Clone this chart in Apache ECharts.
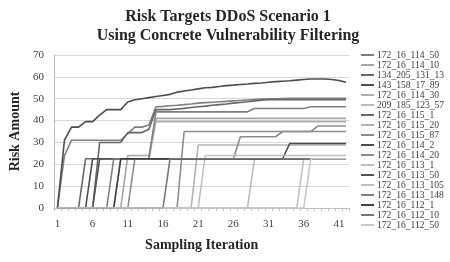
<!DOCTYPE html>
<html><head><meta charset="utf-8">
<script src="https://cdn.jsdelivr.net/npm/echarts@6/dist/echarts.min.js"></script>
<style>html,body{margin:0;padding:0;background:#fff}#c{width:450px;height:262px}</style>
</head><body><div id="c"></div>
<script>
const titleLines = ['Risk Targets DDoS Scenario 1', 'Using Concrete Vulnerability Filtering'];
const xName = 'Sampling Iteration';
const yName = 'Risk Amount';
const categories = ['1','2','3','4','5','6','7','8','9','10','11','12','13','14','15','16','17','18','19','20','21','22','23','24','25','26','27','28','29','30','31','32','33','34','35','36','37','38','39','40','41','42'];
const seriesNames = ['172_16_114_50','172_16_114_10','134_205_131_13','143_158_17_89','172_16_114_30','209_185_123_57','172_16_115_1','172_16_115_20','172_16_115_87','172_16_114_2','172_16_114_20','172_16_113_1','172_16_113_50','172_16_113_105','172_16_113_148','172_16_112_1','172_16_112_10','172_16_112_50'];

const s_172_16_114_50 = [0,24,31,31,31,31,31,31,31,31,34,37,37,38,46.3,46.5,46.8,47,47.3,47.6,48,48.2,48.4,48.6,48.8,49,49.2,49.4,49.6,49.8,50,50,50.1,50.2,50.2,50.2,50.2,50.2,50.2,50.2,50.2,50.2];
const s_172_16_114_10 = [0,0,0,0,0,0,0,0,0,0,24,24,24,24,41,41,41,41,41,41,41,41,41,41,41,41,41,41,41,41,41,41,41,41,41,41,41,41,41,41,41,41];
const s_134_205_131_13 = [0,0,0,0,0,0,30,30,30,30,34.5,34.5,34.5,36,45,45,45,45.3,45.6,46,46.3,46.6,47,47.3,47.6,48,48.3,48.6,49,49.3,49.5,49.5,49.5,49.5,49.5,49.5,49.5,49.5,49.5,49.5,49.5,49.5];
const s_143_158_17_89 = [0,31,37,37,39.5,39.5,42.5,45,45,45,48.5,49.5,50,50.5,51,51.5,52,53,53.5,54,54.5,55,55.2,55.6,56,56.2,56.5,56.7,57,57.2,57.5,57.8,58,58.2,58.5,58.8,59,59,59,58.8,58.3,57.5];
const s_172_16_114_30 = [0,0,0,0,0,0,0,0,0,22.5,22.5,22.5,22.5,22.5,39.5,39.5,39.5,39.5,39.5,39.5,39.5,39.5,39.5,39.5,39.5,39.5,39.5,39.5,39.5,39.5,39.5,39.5,39.5,39.5,39.5,39.5,39.5,39.5,39.5,39.5,39.5,39.5];
const s_209_185_123_57 = [0,0,0,0,0,0,0,0,0,0,0,0,0,0,0,0,0,0,0,0,0,0,0,0,0,0,0,0,22.5,22.5,22.5,22.5,22.5,22.5,22.5,22.5,22.5,22.5,22.5,22.5,22.5,22.5];
const s_172_16_115_1 = [0,0,0,0,22.5,22.5,22.5,22.5,22.5,22.5,22.5,22.5,22.5,22.5,22.5,22.5,22.5,22.5,22.5,22.5,22.5,22.5,22.5,22.5,22.5,22.5,22.5,22.5,22.5,22.5,22.5,22.5,22.5,22.5,22.5,22.5,22.5,22.5,22.5,22.5,22.5,22.5];
const s_172_16_115_20 = [0,0,0,0,0,0,0,0,0,0,0,0,0,0,0,0,0,0,0,0,28.8,28.8,28.8,28.8,28.8,28.8,28.8,28.8,28.8,28.8,28.8,28.8,28.8,28.8,28.8,28.8,28.8,28.8,28.8,28.8,28.8,28.8];
const s_172_16_115_87 = [0,0,0,0,0,0,0,0,0,0,0,0,0,0,0,0,0,0,35,35,35,35,35,35,35,35,35,35,35,35,35,35,35,35,35,35,35,37.5,37.5,37.5,37.5,37.5];
const s_172_16_114_2 = [0,0,0,0,0,22.5,22.5,22.5,22.5,22.5,22.5,22.5,22.5,22.5,22.5,22.5,22.5,22.5,22.5,22.5,22.5,22.5,22.5,22.5,22.5,22.5,22.5,22.5,22.5,22.5,22.5,22.5,22.5,29.5,29.5,29.5,29.5,29.5,29.5,29.5,29.5,29.5];
const s_172_16_114_20 = [0,0,0,0,0,0,0,0,0,0,0,22.5,22.5,22.5,22.5,22.5,22.5,22.5,22.5,22.5,22.5,22.5,22.5,22.5,22.5,22.5,32.6,32.6,32.6,32.6,32.6,32.6,35,35,35,35,35,35,35,35,35,35];
const s_172_16_113_1 = [0,0,0,0,0,0,0,0,0,0,0,0,0,0,0,0,0,0,0,0,0,24,24,24,24,24,24,24,24,24,24,24,24,24,24,24,24,24,24,24,24,24];
const s_172_16_113_50 = [0,0,0,0,0,0,22.5,22.5,22.5,22.5,22.5,22.5,22.5,22.5,22.5,22.5,22.5,22.5,22.5,22.5,22.5,22.5,22.5,22.5,22.5,22.5,22.5,22.5,22.5,22.5,22.5,22.5,22.5,22.5,22.5,22.5,22.5,22.5,22.5,22.5,22.5,22.5];
const s_172_16_113_105 = [0,0,0,0,0,0,0,0,0,0,0,0,0,0,0,0,0,0,0,0,0,0,0,0,0,0,0,0,0,0,0,0,0,0,0,22.5,22.5,22.5,22.5,22.5,22.5,22.5];
const s_172_16_113_148 = [0,0,0,0,0,0,0,0,22.5,22.5,22.5,22.5,22.5,22.5,44,44,44,44,44,44,44,44,44,44,44,44,44,44,45.5,45.5,45.5,45.5,45.5,45.5,45.5,45.5,46.3,46.3,46.3,46.3,46.3,46.3];
const s_172_16_112_1 = [0,0,0,0,0,0,0,0,0,22.5,22.5,22.5,22.5,22.5,22.5,22.5,22.5,22.5,22.5,22.5,22.5,22.5,22.5,22.5,22.5,22.5,22.5,22.5,22.5,22.5,22.5,22.5,22.5,22.5,22.5,22.5,22.5,22.5,22.5,22.5,22.5,22.5];
const s_172_16_112_10 = [0,0,0,0,0,0,0,0,0,0,0,0,0,0,0,0,22.5,22.5,22.5,22.5,22.5,22.5,22.5,22.5,22.5,22.5,22.5,22.5,22.5,22.5,22.5,22.5,22.5,22.5,22.5,22.5,22.5,22.5,22.5,22.5,22.5,22.5];
const s_172_16_112_50 = [0,0,0,0,0,0,0,0,0,0,0,0,0,0,0,0,0,0,0,0,0,0,0,0,0,0,0,0,0,0,0,0,0,0,0,0,22.5,22.5,22.5,22.5,22.5,22.5];

const seriesData = [s_172_16_114_50,s_172_16_114_10,s_134_205_131_13,s_143_158_17_89,s_172_16_114_30,s_209_185_123_57,s_172_16_115_1,s_172_16_115_20,s_172_16_115_87,s_172_16_114_2,s_172_16_114_20,s_172_16_113_1,s_172_16_113_50,s_172_16_113_105,s_172_16_113_148,s_172_16_112_1,s_172_16_112_10,s_172_16_112_50];
const colors = ['#7f7f7f','#a6a6a6','#666666','#4d4d4d','#b0b0b0','#bdbdbd','#666666','#b3b3b3','#8c8c8c','#4d4d4d','#8c8c8c','#bfbfbf','#555555','#c0c0c0','#808080','#404040','#777777','#c8c8c8'];

const FONT = '"Liberation Serif","Times New Roman",serif';
const chart = echarts.init(document.getElementById('c'), null, {renderer:'canvas'});
chart.setOption({
  backgroundColor:'#ffffff',
  animation:false,
  color: colors,
  title:{
    text: titleLines.join('\n'),
    left: 223, top: 2, textAlign:'center',
    textStyle:{fontFamily:FONT, fontSize:16, fontWeight:'bold', color:'#262626', lineHeight:19}
  },
  legend:{
    orient:'vertical', left:356, top:45,
    icon:'rect', itemWidth:13, itemHeight:2, itemGap:0,
    textStyle:{fontFamily:FONT, fontSize:9.6, color:'#404040', lineHeight:9.5, padding:[0,0,0,-2]},
    data: seriesNames
  },
  grid:{left:51.7, right:100.5, top:55, bottom:54, containLabel:false},
  xAxis:{
    type:'category', data:categories, boundaryGap:true,
    name:xName, nameLocation:'middle', nameGap:30,
    nameTextStyle:{fontFamily:FONT, fontSize:14, fontWeight:'bold', color:'#262626'},
    axisLine:{lineStyle:{color:'#bfbfbf'}},
    axisTick:{show:true, interval:0, length:3, lineStyle:{color:'#bfbfbf'}},
    axisLabel:{interval:4, fontFamily:FONT, fontSize:11, color:'#404040', margin:11},
    splitLine:{show:false}
  },
  yAxis:{
    type:'value', min:0, max:70, interval:10,
    name:yName, nameLocation:'middle', nameGap:24, nameRotate:90,
    nameTextStyle:{fontFamily:FONT, fontSize:14, fontWeight:'bold', color:'#262626'},
    axisLine:{show:true, lineStyle:{color:'#bfbfbf'}},
    axisTick:{show:false},
    axisLabel:{fontFamily:FONT, fontSize:11, color:'#404040', margin:10},
    splitLine:{lineStyle:{color:'#d9d9d9', width:1}}
  },
  series: seriesNames.map((n,i)=>({
    name:n, type:'line', data:seriesData[i], showSymbol:false, symbol:'none',
    lineStyle:{width:1.6, color:colors[i]}, itemStyle:{color:colors[i]}
  }))
});
</script></body></html>
